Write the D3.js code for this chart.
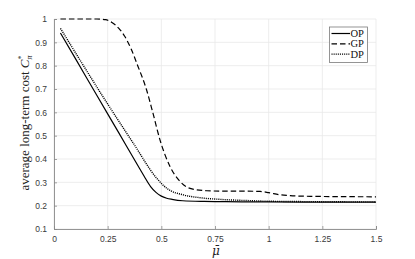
<!DOCTYPE html>
<html>
<head>
<meta charset="utf-8">
<script src="https://cdn.jsdelivr.net/npm/d3@7"></script>
<style>
body { margin: 0; background: #fff; }
</style>
</head>
<body>
<div id="chart"></div>
<script>
// values
var opMu   = [0.03, 0.1, 0.2, 0.3, 0.4, 0.42, 0.45, 0.475, 0.5, 0.525, 0.55, 0.6, 0.7, 0.8, 1.0, 1.25, 1.5];
var opCost = [0.94, 0.83, 0.672, 0.515, 0.357, 0.326, 0.282, 0.257, 0.241, 0.232, 0.227, 0.221, 0.218, 0.217, 0.216, 0.215, 0.215];

var gpMu   = [0.03, 0.2, 0.24, 0.27, 0.3, 0.33, 0.36, 0.39, 0.43, 0.46, 0.494, 0.541, 0.588, 0.634, 0.712, 0.8, 0.9, 0.96, 1.0, 1.05, 1.1, 1.2, 1.5];
var gpCost = [1.0, 1.0, 0.997, 0.985, 0.962, 0.925, 0.87, 0.8, 0.7, 0.6, 0.481, 0.367, 0.303, 0.274, 0.264, 0.262, 0.262, 0.261, 0.256, 0.247, 0.243, 0.24, 0.238];

var dpMu   = [0.03, 0.238, 0.37, 0.479, 0.526, 0.603, 0.681, 0.774, 0.9, 1.0, 1.25, 1.5];
var dpCost = [0.96, 0.653, 0.467, 0.317, 0.274, 0.246, 0.234, 0.227, 0.222, 0.219, 0.217, 0.216];

var xTicks = [0, 0.25, 0.5, 0.75, 1, 1.25, 1.5];
var yTicks = [0.1, 0.2, 0.3, 0.4, 0.5, 0.6, 0.7, 0.8, 0.9, 1];

var seriesNames = ["OP", "GP", "DP"];
var dashes = ["none", "5.5,3", "1.1,1"];

var W = 415, H = 259;
var margin = {top: 19, right: 39, bottom: 30, left: 54};
var w = W - margin.left - margin.right,
    h = H - margin.top - margin.bottom;

var svg = d3.select("#chart").append("svg")
    .attr("width", W).attr("height", H);
var g = svg.append("g").attr("transform", "translate(" + margin.left + "," + margin.top + ")");

var x = d3.scaleLinear().domain([0, 1.5]).range([0, w]);
var y = d3.scaleLinear().domain([0.1, 1]).range([h, 0]);

// grid
g.selectAll(".xgrid").data(xTicks).enter().append("line")
    .attr("x1", d => x(d)).attr("x2", d => x(d))
    .attr("y1", 0).attr("y2", h)
    .style("stroke", "#e8e8e8").style("stroke-width", 0.8);
g.selectAll(".ygrid").data(yTicks).enter().append("line")
    .attr("x1", 0).attr("x2", w)
    .attr("y1", d => y(d)).attr("y2", d => y(d))
    .style("stroke", "#e8e8e8").style("stroke-width", 0.8);

// axes
var xAxis = g.append("g").attr("transform", "translate(0," + h + ")")
    .call(d3.axisBottom(x).tickValues(xTicks).tickSize(-3).tickPadding(7)
        .tickFormat(d => d === 0 ? "0" : String(d)));
var yAxis = g.append("g")
    .call(d3.axisLeft(y).tickValues(yTicks).tickSize(-3).tickPadding(7)
        .tickFormat(d => d === 1 ? "1" : d3.format(".1f")(d)));

[xAxis, yAxis].forEach(function (a) {
    a.select(".domain").style("stroke", "#8a8a8a").style("stroke-width", 0.9);
    a.selectAll(".tick line").style("stroke", "#8a8a8a").style("stroke-width", 0.8);
    a.selectAll("text").style("font-family", "Liberation Sans, Arial, sans-serif")
        .style("font-size", "8.5px").style("fill", "#3a3a3a");
});

// lines
var line = d3.line().x(d => x(d[0])).y(d => y(d[1])).curve(d3.curveMonotoneX);
var series = [d3.zip(opMu, opCost), d3.zip(gpMu, gpCost), d3.zip(dpMu, dpCost)];

series.forEach(function (s, i) {
    g.append("path")
        .datum(s)
        .attr("d", line)
        .style("fill", "none")
        .style("stroke", "#000")
        .style("stroke-width", i === 2 ? 1.4 : 1.2)
        .style("stroke-dasharray", dashes[i]);
});

// axis labels
svg.append("text")
    .attr("transform", "translate(29," + 123 + ") rotate(-90)")
    .attr("text-anchor", "middle")
    .style("font-family", "Liberation Serif, Times New Roman, serif")
    .style("font-size", "13px")
    .style("fill", "#222")
    .html('average long-term cost <tspan font-style="italic">C</tspan><tspan font-size="8px" dy="-5">*</tspan><tspan font-size="8px" font-style="italic" dx="-4" dy="8">π</tspan>');

svg.append("text")
    .attr("x", margin.left + x(0.75) + 1)
    .attr("y", 255)
    .attr("text-anchor", "middle")
    .style("font-family", "DejaVu Serif, serif")
    .style("font-style", "italic")
    .style("font-size", "12px")
    .style("fill", "#222")
    .text("\u03BC\u0304");

// legend
var leg = svg.append("g").attr("transform", "translate(329.5,27)");
leg.append("rect").attr("width", 38).attr("height", 35.5)
    .style("fill", "#fff").style("stroke", "#7a7a7a").style("stroke-width", 0.8);
seriesNames.forEach(function (name, i) {
    var yy = 6.5 + i * 10.3;
    leg.append("line").attr("x1", 2).attr("x2", 20.5).attr("y1", yy).attr("y2", yy)
        .style("stroke", "#000").style("stroke-width", i === 2 ? 1.4 : 1.2)
        .style("stroke-dasharray", dashes[i]);
    leg.append("text").attr("x", 21).attr("y", yy + 3.5)
        .style("font-family", "Liberation Serif, Times New Roman, serif")
        .style("font-size", "10.5px").style("fill", "#111")
        .text(name);
});
</script>
</body>
</html>
